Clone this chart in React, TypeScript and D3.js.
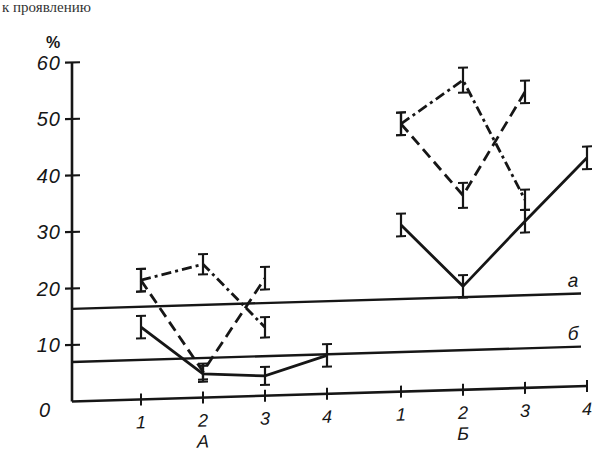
import React from "react";
import * as d3 from "d3";

// ---- data ----
const groups = ["А", "Б"];
const subs = ["1", "2", "3", "4"];
const yTicks = [0, 10, 20, 30, 40, 50, 60];

const solidA = [12.8, 4.2, 3.5, 6.8];
const solidB = [29.5, 18.3, 29.5, 40.4];
const dashedA: (number | null)[] = [21.1, 4.6, 20.8, null];
const dashedB: (number | null)[] = [47.4, 34.4, 52.4, null];
const dashdotA: (number | null)[] = [21.1, 23.6, 12.1, null];
const dashdotB: (number | null)[] = [47.4, 54.8, 33.3, null];
const errSolidA = [2, 1.4, 1.6, 2];
const errSolidB = [2, 2, 2, 2];
const errDashedA = [2, 1.4, 2, 0];
const errDashedB = [2, 2.2, 2, 0];
const errDashdotA = [2, 1.8, 1.8, 0];
const errDashdotB = [2, 2.2, 1.8, 0];

const levelA = 16.4; // line "а"
const levelB = 7.0; // line "б"
const levelLabels = ["а", "б"];

const W = 616;
const H = 470;
const X0 = 72;
const Y0 = 401.5;

export default function App() {
  const y = d3.scaleLinear().domain([0, 60]).range([Y0, 62.5]);
  const gx = d3.scalePoint<string>().domain(groups).range([141, 401]);
  const sx = d3.scalePoint<string>().domain(subs).range([0, 186]);
  const px = (g: string, s: string) => (gx(g) as number) + (sx(s) as number);
  const xEnd = px("Б", "4");

  const ink = "#161616";
  const fontItal = "'Liberation Sans', Arial, sans-serif";

  type Ser = { vals: (number | null)[]; errs: number[]; g: string; dash?: string };
  const series: Ser[] = [
    { vals: solidA, errs: errSolidA, g: "А" },
    { vals: solidB, errs: errSolidB, g: "Б" },
    { vals: dashedA, errs: errDashedA, g: "А", dash: "11,6" },
    { vals: dashedB, errs: errDashedB, g: "Б", dash: "11,6" },
    { vals: dashdotA, errs: errDashdotA, g: "А", dash: "10,4,3,4" },
    { vals: dashdotB, errs: errDashdotB, g: "Б", dash: "10,4,3,4" },
  ];

  const lineGen = (g: string) =>
    d3
      .line<number | null>()
      .defined((d) => d != null)
      .x((_, i) => px(g, subs[i]))
      .y((d) => y(d as number));

  const levels = [levelA, levelB];
  const tan = Math.tan((1.72 * Math.PI) / 180);

  return (
    <svg
      width={W}
      height={H}
      style={{ position: "absolute", left: 0, top: 0, background: "#fff" }}
    >
      <rect x={0} y={0} width={W} height={H} fill="#fff" />
      <text x={2} y={12} fontFamily="'Liberation Serif', serif" fontSize={15} fill="#333">
        к  проявлению
      </text>

      {/* y axis labels */}
      <text x={53} y={48} textAnchor="middle" fontFamily={fontItal} fontWeight="bold" fontSize={16} fill={ink}>
        %
      </text>
      {yTicks.map((t) => (
        <text
          key={t}
          x={t === 0 ? 51 : 61}
          y={y(t) + (t === 0 ? 15 : 7)}
          textAnchor="end"
          fontFamily={fontItal}
          fontStyle="italic"
          fontSize={20}
          letterSpacing={1}
          fill={ink}
        >
          {t}
        </text>
      ))}

      <g transform={`translate(${X0},${Y0}) matrix(1,${-tan},0,1,0,0) translate(${-X0},${-Y0})`}>
        {/* y axis */}
        <line x1={X0} x2={X0} y1={y(0)} y2={y(60)} stroke={ink} strokeWidth={2.6} />
        {yTicks
          .filter((t) => t > 0)
          .map((t) => (
            <line key={t} x1={X0 - 7} x2={X0 + 8} y1={y(t)} y2={y(t)} stroke={ink} strokeWidth={2.2} />
          ))}
        {/* x axis */}
        <line x1={X0} x2={xEnd} y1={y(0)} y2={y(0)} stroke={ink} strokeWidth={2.6} />
        {groups.map((g) =>
          subs.map((s) => (
            <g key={g + s}>
              <line x1={px(g, s)} x2={px(g, s)} y1={y(0) - 6} y2={y(0) + 6} stroke={ink} strokeWidth={2} />
              <text
                x={px(g, s)}
                y={y(0) + 29}
                textAnchor="middle"
                fontFamily={fontItal}
                fontStyle="italic"
                fontSize={18}
                fill={ink}
              >
                {s}
              </text>
            </g>
          ))
        )}
        {groups.map((g) => (
          <text
            key={g}
            x={px(g, "2")}
            y={y(0) + 50}
            textAnchor="middle"
            fontFamily={fontItal}
            fontStyle="italic"
            fontSize={18}
            fill={ink}
          >
            {g}
          </text>
        ))}

        {/* reference levels */}
        {levels.map((lv, i) => (
          <g key={i}>
            <line x1={X0} x2={xEnd - 6} y1={y(lv)} y2={y(lv)} stroke={ink} strokeWidth={2.4} />
            <text
              x={xEnd - 14}
              y={y(lv) - 7}
              textAnchor="middle"
              fontFamily={fontItal}
              fontStyle="italic"
              fontSize={19}
              fill={ink}
            >
              {levelLabels[i]}
            </text>
          </g>
        ))}

        {/* series */}
        {series.map((s, k) => (
          <g key={k}>
            <path
              d={lineGen(s.g)(s.vals) || ""}
              fill="none"
              stroke={ink}
              strokeWidth={2.8}
              strokeDasharray={s.dash}
            />
            {s.vals.map((v, i) =>
              v == null ? null : (
                <g key={i}>
                  <line
                    x1={px(s.g, subs[i])}
                    x2={px(s.g, subs[i])}
                    y1={y(v - s.errs[i])}
                    y2={y(v + s.errs[i])}
                    stroke={ink}
                    strokeWidth={2.2}
                  />
                  <line
                    x1={px(s.g, subs[i]) - 5}
                    x2={px(s.g, subs[i]) + 5}
                    y1={y(v + s.errs[i])}
                    y2={y(v + s.errs[i])}
                    stroke={ink}
                    strokeWidth={2}
                  />
                  <line
                    x1={px(s.g, subs[i]) - 5}
                    x2={px(s.g, subs[i]) + 5}
                    y1={y(v - s.errs[i])}
                    y2={y(v - s.errs[i])}
                    stroke={ink}
                    strokeWidth={2}
                  />
                </g>
              )
            )}
          </g>
        ))}
      </g>
    </svg>
  );
}
